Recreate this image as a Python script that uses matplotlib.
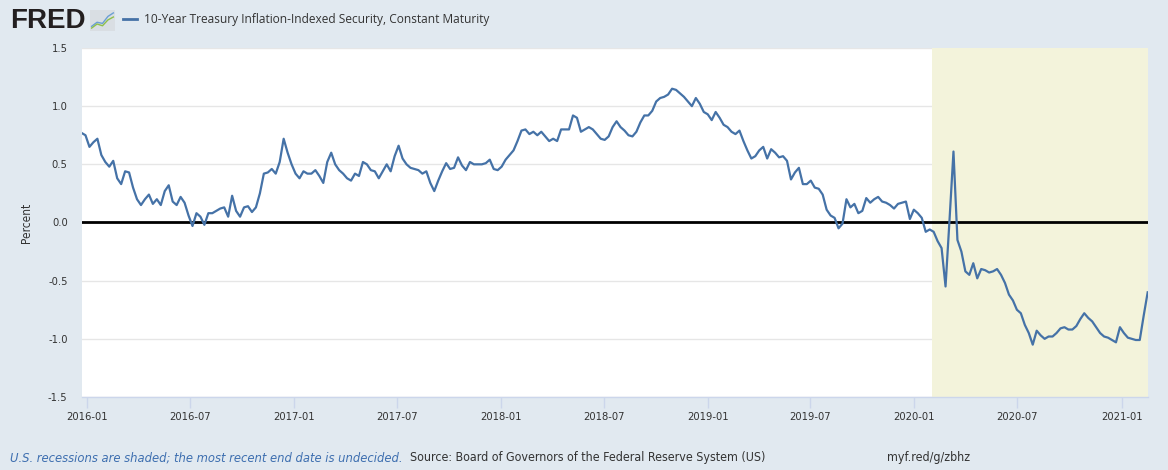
import numpy as np
import pandas as pd
import matplotlib
matplotlib.use("Agg")
import matplotlib.pyplot as plt
import matplotlib.dates as mdates
from matplotlib import font_manager

# weekly readings of the 10-year TIPS yield (percent)
start_date = "2015-12-22"
tips_2016 = [0.77, 0.75, 0.65, 0.69, 0.72, 0.58, 0.52, 0.48, 0.53, 0.38,
             0.33, 0.44, 0.43, 0.30, 0.20, 0.15, 0.20, 0.24, 0.16, 0.20,
             0.15, 0.27, 0.32, 0.18, 0.15, 0.22, 0.17, 0.06, -0.03, 0.08,
             0.05, -0.02, 0.08, 0.08, 0.10, 0.12, 0.13, 0.05, 0.23, 0.10]
tips_2017a = [0.05, 0.13, 0.14, 0.09, 0.13, 0.25, 0.42, 0.43, 0.46, 0.42,
              0.52, 0.72, 0.60, 0.50, 0.42, 0.38, 0.44, 0.42, 0.42, 0.45,
              0.40, 0.34, 0.52, 0.60, 0.50, 0.45, 0.42, 0.38, 0.36, 0.42,
              0.40, 0.52, 0.50, 0.45, 0.44, 0.38, 0.44, 0.50, 0.44, 0.57]
tips_2017b = [0.66, 0.55, 0.50, 0.47, 0.46, 0.45, 0.42, 0.44, 0.34, 0.27,
              0.36, 0.44, 0.51, 0.46, 0.47, 0.56, 0.49, 0.45, 0.52, 0.50,
              0.50, 0.50, 0.51, 0.54, 0.46, 0.45, 0.48, 0.54, 0.58, 0.62,
              0.70, 0.79, 0.80, 0.76, 0.78, 0.75, 0.78, 0.74, 0.70]
tips_2018 = [0.72, 0.70, 0.80, 0.80, 0.80, 0.92, 0.90, 0.78, 0.80, 0.82,
             0.80, 0.76, 0.72, 0.71, 0.74, 0.82, 0.87, 0.82, 0.79, 0.75,
             0.74, 0.78, 0.86, 0.92, 0.92, 0.96, 1.04, 1.07, 1.08, 1.10,
             1.15, 1.14, 1.11, 1.08, 1.04, 1.00, 1.07, 1.02, 0.95]
tips_2019 = [0.93, 0.88, 0.95, 0.90, 0.84, 0.82, 0.78, 0.76, 0.79, 0.70,
             0.62, 0.55, 0.57, 0.62, 0.65, 0.55, 0.63, 0.60, 0.56, 0.57,
             0.53, 0.37, 0.43, 0.47, 0.33, 0.33, 0.36, 0.30, 0.29, 0.24,
             0.11, 0.06, 0.04, -0.05, -0.01, 0.20, 0.13, 0.16, 0.08]
tips_2020a = [0.10, 0.21, 0.17, 0.20, 0.22, 0.18, 0.17, 0.15, 0.12, 0.16,
              0.17, 0.18, 0.03, 0.11, 0.08, 0.04, -0.08, -0.06, -0.08, -0.16,
              -0.22, -0.55, 0.02, 0.61, -0.15, -0.25, -0.42, -0.45, -0.35, -0.48,
              -0.40, -0.41, -0.43, -0.42, -0.40, -0.45, -0.52, -0.62, -0.67]
tips_2020b = [-0.75, -0.78, -0.88, -0.95, -1.05, -0.93, -0.97, -1.00, -0.98, -0.98,
              -0.95, -0.91, -0.90, -0.92, -0.92, -0.89, -0.83, -0.78, -0.82, -0.85,
              -0.90, -0.95, -0.98, -0.99, -1.01, -1.03, -0.90, -0.95, -0.99, -1.00,
              -1.01, -1.01, -0.80, -0.60]

recession_start = "2020-02-01"
y_ticks = [-1.5, -1.0, -0.5, 0.0, 0.5, 1.0, 1.5]
series_name = "10-Year Treasury Inflation-Indexed Security, Constant Maturity"

values = np.array(tips_2016 + tips_2017a + tips_2017b + tips_2018 +
                  tips_2019 + tips_2020a + tips_2020b)
dates = pd.date_range(start_date, periods=len(values), freq="7D")

bg = "#e1e9f0"
line_color = "#4572a7"

# narrow font for axis text if one is around
names = {f.name for f in font_manager.fontManager.ttflist}
if "Liberation Sans Narrow" in names:
    cond = dict(family="Liberation Sans Narrow")
else:
    cond = dict(family="DejaVu Sans", stretch="condensed")

fig = plt.figure(figsize=(11.68, 4.70), dpi=100, facecolor=bg)
ax = fig.add_axes([0.0698, 0.1553, 0.9128, 0.7426])
ax.set_facecolor("white")

# recession shading
ax.axvspan(pd.Timestamp(recession_start), dates[-1], color="#f3f3db", lw=0, zorder=1)
ax.axhline(0, color="black", lw=2, zorder=3)
ax.plot(dates, values, color=line_color, lw=1.6, zorder=4)

ax.set_xlim(dates[0], dates[-1])
ax.set_ylim(-1.5, 1.5)
ax.set_yticks(y_ticks)
ax.set_yticklabels(["%.1f" % t for t in y_ticks], fontsize=8, color="#333333", **cond)
ax.yaxis.grid(True, color="#e6e6e6", lw=1, zorder=0)
ax.set_axisbelow(True)
ax.tick_params(axis="y", length=0, pad=10)

ax.xaxis.set_major_locator(mdates.MonthLocator(bymonth=[1, 7]))
ax.xaxis.set_major_formatter(mdates.DateFormatter("%Y-%m"))
ax.tick_params(axis="x", length=8, width=1, color="#ccd6eb", labelsize=8,
               labelcolor="#333333", pad=3)
for lab in ax.get_xticklabels():
    lab.set_fontproperties(font_manager.FontProperties(size=8, **cond))

for side in ["top", "right", "left"]:
    ax.spines[side].set_visible(False)
ax.spines["bottom"].set_color("#ccd6eb")
ax.spines["bottom"].set_linewidth(1)

ax.set_ylabel("Percent", fontsize=8.5, color="#333333", labelpad=11, **cond)

# header
fig.text(0.0086, 0.955, "FRED", family="Liberation Sans", weight="bold",
         fontsize=20, color="#231f20", va="center", ha="left")
icon = fig.add_axes([90 / 1168, 1 - 31 / 470, 25 / 1168, 21 / 470])
icon.set_facecolor("#d9dee3")
icon.plot([0, 1, 2, 3, 4], [0.5, 1.2, 1.0, 2.2, 2.8], color="#6a9fd4", lw=1)
icon.plot([0, 1, 2, 3, 4], [0.2, 0.9, 0.6, 1.6, 2.1], color="#8fbf4a", lw=1)
icon.set_xlim(-0.3, 4.3)
icon.set_ylim(-0.3, 3.3)
icon.set_xticks([])
icon.set_yticks([])
for s in icon.spines.values():
    s.set_visible(False)

fig.lines.append(plt.Line2D([123 / 1168, 137 / 1168], [1 - 19 / 470, 1 - 19 / 470],
                            transform=fig.transFigure, color=line_color, lw=2))
fig.text(144 / 1168, 1 - 19 / 470, series_name, family="Open Sans",
         fontsize=8.6, color="#333333", va="center", ha="left")

# footer
fy = 1 - 458 / 470
fig.text(10 / 1168, fy,
         "U.S. recessions are shaded; the most recent end date is undecided.",
         style="italic", fontsize=9.3, color="#3e6fb0", va="center", **cond)
fig.text(410 / 1168, fy,
         "Source: Board of Governors of the Federal Reserve System (US)",
         fontsize=8.9, color="#333333", va="center", **cond)
fig.text(887 / 1168, fy, "myf.red/g/zbhz",
         fontsize=8.9, color="#333333", va="center", **cond)

fig.savefig("out.png", dpi=100, facecolor=bg)
